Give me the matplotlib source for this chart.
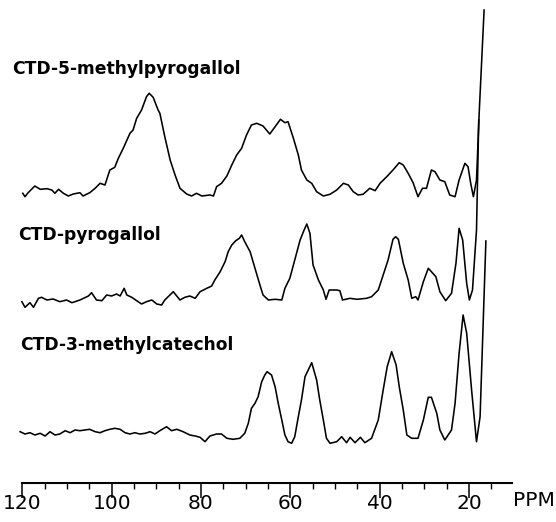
import matplotlib
matplotlib.use("Agg")
import matplotlib.pyplot as plt


# ---------------------- DATA ----------------------
# chemical shift in ppm, intensity above each trace's own baseline (arbitrary units)

ppm_5mp = [119.9, 119.4, 118.7, 117.2, 116.0, 114.5, 113.4, 112.7, 111.9, 110.8,
           109.7, 108.6, 107.1, 106.4, 104.9, 103.7, 102.6, 101.5, 100.4, 99.3,
           98.5, 97.4, 95.9, 95.2, 94.4, 93.3, 92.2, 91.6, 90.7, 89.6,
           89.2, 88.1, 86.9, 85.8, 84.7, 83.2, 82.1, 81.0, 79.8, 78.0,
           77.2, 76.5, 75.4, 74.2, 73.1, 72.0, 70.9, 69.8, 68.7, 67.5,
           66.1, 64.6, 63.4, 62.2, 61.2, 60.5, 59.3, 58.2, 57.5, 56.3,
           55.2, 54.1, 52.6, 51.1, 49.6, 48.1, 47.0, 45.9, 44.8, 43.7,
           42.2, 41.0, 39.9, 38.4, 37.0, 35.6, 34.7, 33.6, 32.5, 31.4,
           30.4, 29.5, 28.4, 27.6, 26.5, 25.4, 24.3, 23.1, 22.2, 20.9,
           20.2, 19.6, 19.0, 18.3, 17.7, 16.6]
int_5mp = [2.7, -0.7, 3.3, 10, 6.7, 7.3, 6, 2.7, 6.7, 2.7,
           0, 2, 3.3, 0, 3.3, 7.7, 12.7, 11, 26, 28.7,
           37.7, 47.7, 62.7, 66, 77.7, 86, 99.3, 102.7, 98.7, 86,
           82.7, 59.3, 36, 21, 7.7, 2, 0, 2.7, 0, 1,
           0, 9.3, 12.7, 20, 31, 41, 47.7, 61, 71, 72.7,
           70, 62, 69.3, 76.7, 73.3, 74.3, 57.7, 41, 26, 16,
           12.7, 4.3, 0, 1.7, 6, 12.7, 11, 4.3, 1, 1.7,
           7.7, 5.3, 12.7, 19.3, 26, 33.3, 31, 22.7, 13.3, -0.7,
           7.7, 7.7, 26, 24.3, 16, 14.3, 1, -0.7, 16, 32.7,
           29.3, 12.7, -0.7, 16, 83, 186]

ppm_pg = [120.1, 119.4, 118.3, 117.5, 116.4, 115.7, 114.5, 113.1, 111.6, 110.1,
          108.9, 107.1, 105.2, 104.5, 103.4, 102.2, 101.1, 100.0, 98.9, 98.1,
          97.2, 96.6, 95.5, 94.4, 93.3, 92.2, 91.0, 89.9, 88.8, 88.1,
          86.2, 84.7, 83.6, 82.5, 81.3, 80.2, 78.7, 77.6, 76.9, 75.7,
          74.6, 73.9, 73.1, 72.2, 71.4, 70.9, 70.2, 69.0, 67.9, 66.8,
          66.1, 64.9, 63.4, 61.9, 61.2, 60.1, 59.0, 57.8, 56.9, 56.3,
          55.6, 54.9, 53.7, 52.6, 52.0, 51.3, 49.6, 48.9, 48.3, 46.6,
          45.1, 42.9, 41.8, 40.3, 39.2, 38.1, 37.0, 36.4, 35.8, 34.7,
          33.6, 32.8, 31.9, 31.4, 30.2, 29.1, 28.4, 27.4, 26.5, 25.2,
          23.9, 22.9, 22.2, 21.4, 20.5, 19.9, 19.2, 18.3, 17.8]
int_pg = [-1.7, -7.3, -2.7, -7.3, 1.7, 2.7, 0, 1, -1.7, 0,
          -2.7, 0, 4, 7.3, 0, -0.7, 5, 4, 6, 4,
          11.7, 5, 2.7, -0.7, -4, -1.7, 0, -4, -5, 0,
          8.3, 0, 2.7, 4, 1.7, 8.3, 11.7, 14, 20, 28.3,
          38.3, 48.3, 55, 59.3, 61.7, 65, 58.3, 48.3, 31.7, 15,
          5, 0, 0.7, 0, 11.7, 21.7, 40, 60, 70, 76,
          66.7, 35, 20, 10, 0.7, 10, 10, 9.3, 0, 1.7,
          0.7, 1.7, 3.3, 10, 25, 40, 60.7, 63.3, 60.7, 36.7,
          20, 1.7, 3.3, 0, 18.3, 31.7, 28.3, 23.3, 8.3, -0.7,
          6.7, 36.7, 71.7, 60, 16.7, 0, 10, 70, 180]

ppm_3mc = [120.5, 119.4, 118.3, 117.2, 116.0, 114.9, 113.8, 112.7, 111.6, 110.4,
           109.3, 108.2, 107.1, 106.0, 104.9, 103.7, 102.6, 101.5, 100.4, 99.3,
           98.1, 97.0, 95.9, 94.8, 93.7, 92.5, 91.4, 90.3, 89.2, 87.7,
           86.6, 85.4, 84.0, 82.5, 81.3, 80.2, 79.1, 78.0, 76.5, 75.4,
           74.2, 72.8, 71.3, 70.2, 69.4, 68.7, 67.9, 67.2, 66.4, 65.7,
           65.2, 64.2, 63.4, 62.7, 61.9, 61.2, 60.5, 59.7, 59.0, 58.2,
           57.5, 56.7, 55.2, 54.1, 53.4, 52.6, 51.9, 51.1, 49.6, 48.5,
           47.4, 46.6, 45.5, 44.3, 43.3, 41.8, 40.3, 39.2, 38.3, 37.3,
           36.3, 35.6, 34.7, 33.9, 32.8, 31.4, 30.2, 29.1, 28.4, 27.2,
           26.5, 25.4, 23.9, 23.1, 22.2, 21.3, 20.5, 19.4, 18.3, 17.5,
           16.2]
int_3mc = [4.3, 2, 3.3, 1, 2.7, 0, 4.3, 1, 2, 5.3,
           3.3, 6, 5.3, 6, 6.7, 4.3, 3.3, 5.3, 6.7, 7.7,
           6.7, 3.3, 2, 3.3, 2, 2.7, 4.3, 2, 5.3, 9.3,
           5.3, 6.7, 4.3, 1, 0, -1.3, -5.7, 0, 2, 2,
           -2.3, -3.3, -2.3, 2.7, 12.7, 27.7, 32.7, 39.3, 54.3, 61,
           64.3, 61, 49.3, 32.7, 16, 1, -5.7, -7.3, -0.7, 19.3,
           36, 59.3, 73.3, 56, 36, 16, -2.3, -7.3, -5.7, -0.7,
           -6.7, -1.3, -6.7, -1.3, -6.7, -2.3, 16, 46, 69.3, 84.3,
           71, 49.3, 26, 1, -2.3, -2.3, 16, 38.7, 38.7, 22.7,
           6, -4, 6, 32.7, 82.7, 121, 102.7, 46, -5.7, 19.3,
           195]

labels = ["CTD-5-methylpyrogallol", "CTD-pyrogallol", "CTD-3-methylcatechol"]
offsets = [326, 222, 86]

major_ticks = [120, 100, 80, 60, 40, 20]
major_labels = ["120", "100", "80", "60", "40", "20"]
minor_ticks = [115, 110, 105, 95, 90, 85, 75, 70, 65, 55, 50, 45, 35, 30, 25, 15]


# ---------------------- FIGURE ----------------------
fig = plt.figure(figsize=(5.56, 5.22), dpi=100)
ax = fig.add_axes([0, 0, 1, 1])
ax.set_xlim(125.0, 0.5)
ax.set_ylim(0, 522)

traces = [(ppm_5mp, int_5mp), (ppm_pg, int_pg), (ppm_3mc, int_3mc)]
for (x, y), off in zip(traces, offsets):
    ax.plot(x, [v + off for v in y], color="black", lw=1.15,
            solid_joinstyle="round")

# trace names
label_pos = [(122.3, 453), (121.0, 287), (120.5, 177)]
for name, (lx, ly) in zip(labels, label_pos):
    ax.text(lx, ly, name, fontsize=12.3, fontweight="bold",
            family="DejaVu Sans", ha="left", va="center")


# ---------------------- PPM AXIS ----------------------
for side in ["left", "right", "top"]:
    ax.spines[side].set_visible(False)
ax.spines["bottom"].set_position(("data", 39.5))
ax.spines["bottom"].set_bounds(10.4, 120)
ax.spines["bottom"].set_linewidth(1.5)

ax.set_xticks(major_ticks)
ax.set_xticklabels(major_labels)
ax.set_xticks(minor_ticks, minor=True)
ax.tick_params(axis="x", which="major", direction="out", length=11,
               width=1.1, pad=-3, labelsize=14.5)
ax.tick_params(axis="x", which="minor", direction="out", length=4.5, width=1)
ax.set_yticks([])
ax.text(0.9595, 21 / 522, "PPM", transform=ax.transAxes, fontsize=14.5,
        ha="center", va="center")

fig.savefig("out.png", dpi=100)
